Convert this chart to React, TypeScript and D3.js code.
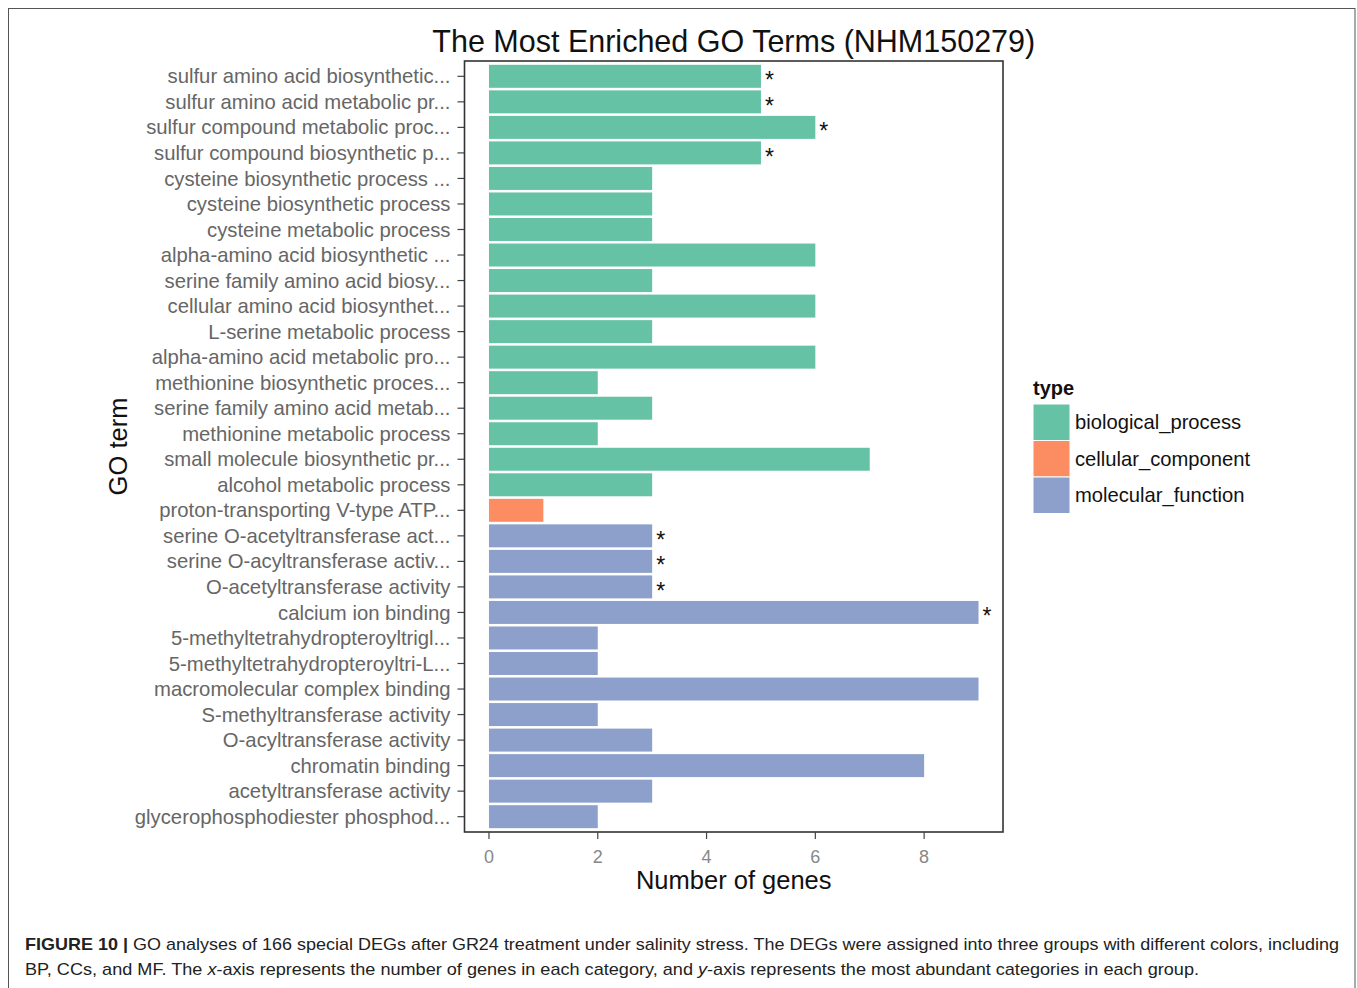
import * as React from "react";
import * as d3 from "d3";

const terms = [
  "sulfur amino acid biosynthetic...",
  "sulfur amino acid metabolic pr...",
  "sulfur compound metabolic proc...",
  "sulfur compound biosynthetic p...",
  "cysteine biosynthetic process ...",
  "cysteine biosynthetic process",
  "cysteine metabolic process",
  "alpha-amino acid biosynthetic ...",
  "serine family amino acid biosy...",
  "cellular amino acid biosynthet...",
  "L-serine metabolic process",
  "alpha-amino acid metabolic pro...",
  "methionine biosynthetic proces...",
  "serine family amino acid metab...",
  "methionine metabolic process",
  "small molecule biosynthetic pr...",
  "alcohol metabolic process",
  "proton-transporting V-type ATP...",
  "serine O-acetyltransferase act...",
  "serine O-acyltransferase activ...",
  "O-acetyltransferase activity",
  "calcium ion binding",
  "5-methyltetrahydropteroyltrigl...",
  "5-methyltetrahydropteroyltri-L...",
  "macromolecular complex binding",
  "S-methyltransferase activity",
  "O-acyltransferase activity",
  "chromatin binding",
  "acetyltransferase activity",
  "glycerophosphodiester phosphod...",
];

const counts = [5, 5, 6, 5, 3, 3, 3, 6, 3, 6, 3, 6, 2, 3, 2, 7, 3, 1, 3, 3, 3, 9, 2, 2, 9, 2, 3, 8, 3, 2];

const types = [
  "BP", "BP", "BP", "BP", "BP", "BP", "BP", "BP", "BP", "BP", "BP", "BP", "BP", "BP", "BP", "BP", "BP",
  "CC",
  "MF", "MF", "MF", "MF", "MF", "MF", "MF", "MF", "MF", "MF", "MF", "MF",
];

const starred = [
  true, true, true, true, false, false, false, false, false, false, false, false, false, false, false, false, false,
  false,
  true, true, true, true, false, false, false, false, false, false, false, false,
];

const typeKeys = ["BP", "CC", "MF"];
const typeNames = ["biological_process", "cellular_component", "molecular_function"];
const typeColors = ["#66c2a5", "#fc8d62", "#8da0cb"];
const xTicks = [0, 2, 4, 6, 8];

const W = 1357;
const H = 988;
const panel = { left: 464.5, right: 1003, top: 61, bottom: 832 };
const font = "'Liberation Sans', Arial, Helvetica, sans-serif";

export default function App() {
  const xScale = d3
    .scaleLinear()
    .domain([-0.45, 9.45])
    .range([panel.left, panel.right]);

  // ggplot-like discrete expansion: 0.6 of a step on each side
  const yScale = d3
    .scaleBand()
    .domain(terms)
    .range([panel.top, panel.bottom])
    .paddingInner(0.1)
    .paddingOuter(0.15);

  const color = d3.scaleOrdinal<string, string>().domain(typeKeys).range(typeColors);

  const bw = yScale.bandwidth();

  return (
    <div style={{ position: "absolute", left: 0, top: 0 }}>
      <svg width={W} height={H} style={{ display: "block", fontFamily: font }}>
        <rect x={0} y={0} width={W} height={H} fill="#fff" />
        <rect x={8.5} y={8.5} width={1346.5} height={1000} fill="none" stroke="#555" strokeWidth={1} />

        <text x={(panel.left + panel.right) / 2} y={52} textAnchor="middle" fontSize={30.5} fill="#111">
          The Most Enriched GO Terms (NHM150279)
        </text>

        {terms.map((t, i) => {
          const y = yScale(t)!;
          const x0 = xScale(0);
          const x1 = xScale(counts[i]);
          const cy = y + bw / 2;
          return (
            <g key={t + i}>
              <rect x={x0} y={y} width={x1 - x0} height={bw} fill={color(types[i])} />
              {starred[i] && (
                <text x={x1 + 4} y={cy + 12} fontSize={23} fill="#111">
                  *
                </text>
              )}
              <line x1={panel.left - 7} x2={panel.left} y1={cy} y2={cy} stroke="#444" strokeWidth={1.2} />
              <text x={panel.left - 14} y={cy} dy="0.35em" textAnchor="end" fontSize={20.3} fill="#666">
                {t}
              </text>
            </g>
          );
        })}

        <rect
          x={panel.left}
          y={panel.top}
          width={panel.right - panel.left}
          height={panel.bottom - panel.top}
          fill="none"
          stroke="#333"
          strokeWidth={1.6}
        />

        {xTicks.map((v) => (
          <g key={v}>
            <line x1={xScale(v)} x2={xScale(v)} y1={panel.bottom} y2={panel.bottom + 7} stroke="#444" strokeWidth={1.2} />
            <text x={xScale(v)} y={857} dy="0.35em" textAnchor="middle" fontSize={18} fill="#888">
              {v}
            </text>
          </g>
        ))}

        <text x={(panel.left + panel.right) / 2} y={889} textAnchor="middle" fontSize={25.5} fill="#111">
          Number of genes
        </text>
        <text
          transform={`translate(127, ${(panel.top + panel.bottom) / 2}) rotate(-90)`}
          textAnchor="middle"
          fontSize={25.5}
          fill="#111"
        >
          GO term
        </text>

        <text x={1033} y={395} fontSize={20} fontWeight="bold" fill="#111">
          type
        </text>
        {typeKeys.map((k, i) => (
          <g key={k}>
            <rect x={1033} y={404 + i * 36.5} width={37} height={36.5} fill={color(k)} stroke="#fff" strokeWidth={1} />
            <text x={1075} y={404 + i * 36.5 + 18} dy="0.35em" fontSize={20.2} fill="#111">
              {typeNames[i]}
            </text>
          </g>
        ))}

        <text x={25} y={950} fontSize={17} fill="#222" textLength={1314} lengthAdjust="spacingAndGlyphs">
          <tspan fontWeight="bold">FIGURE 10 | </tspan>
          GO analyses of 166 special DEGs after GR24 treatment under salinity stress. The DEGs were assigned into three groups with different colors, including
        </text>
        <text x={25} y={975} fontSize={17} fill="#222" textLength={1174} lengthAdjust="spacingAndGlyphs">
          BP, CCs, and MF. The <tspan fontStyle="italic">x</tspan>-axis represents the number of genes in each category, and{" "}
          <tspan fontStyle="italic">y</tspan>-axis represents the most abundant categories in each group.
        </text>
      </svg>
    </div>
  );
}
